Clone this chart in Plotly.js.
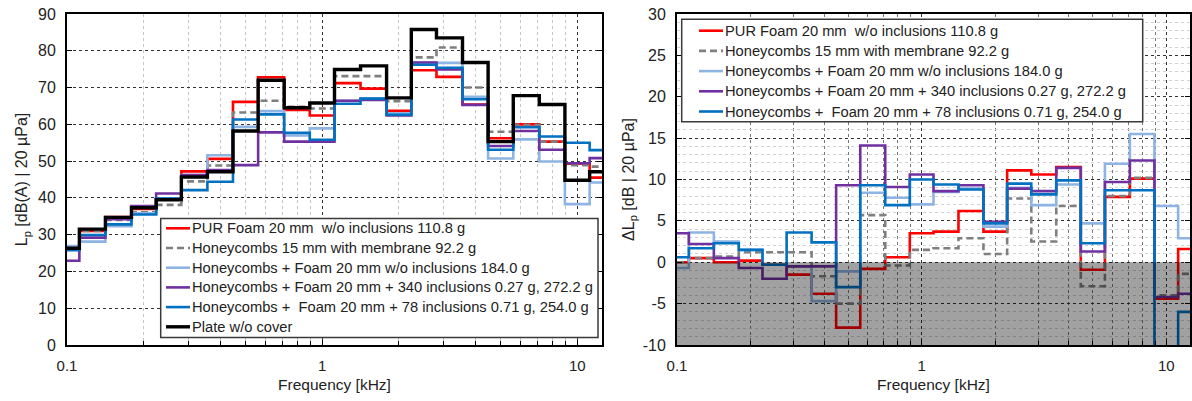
<!DOCTYPE html>
<html><head><meta charset="utf-8">
<script src="https://cdn.plot.ly/plotly-3.0.1.min.js"></script>
<style>html,body{margin:0;padding:0;background:#fff}#chart{width:1192px;height:401px}</style>
</head><body><div id="chart"></div>
<script>
// third-octave band centre frequencies [kHz]
const freq = [0.1,0.125,0.16,0.2,0.25,0.315,0.4,0.5,0.63,0.8,1,1.25,1.6,2,2.5,3.15,4,5,6.3,8,10,12.5];

const seriesNames = [
  'PUR Foam 20 mm\u00a0\u00a0w/o inclusions 110.8 g',
  'Honeycombs 15 mm with membrane 92.2 g',
  'Honeycombs + Foam 20 mm w/o inclusions 184.0 g',
  'Honeycombs + Foam 20 mm + 340 inclusions 0.27 g, 272.2 g',
  'Honeycombs +\u00a0\u00a0Foam 20 mm + 78 inclusions 0.71 g, 254.0 g',
  'Plate w/o cover'
];

// Left: sound pressure level Lp [dB(A)]
const lpPur     = [26.3,31.0,34.8,37.0,39.6,47.2,50.6,66.1,72.8,63.9,62.4,71.2,69.7,63.7,74.7,72.9,65.4,56.2,60.0,55.3,49.3,45.5];
const lpHc15    = [26.3,31.0,34.0,36.1,38.1,44.5,48.8,63.2,66.4,64.8,64.3,73.1,73.1,66.3,78.2,80.9,70.0,58.0,59.9,55.3,48.9,48.5];
const lpHcFoam  = [26.9,28.1,32.3,35.8,39.8,46.2,51.6,59.3,63.6,57.0,58.9,66.4,67.0,63.0,76.8,76.7,67.5,50.7,55.9,49.9,38.3,44.2];
const lpIncl340 = [22.9,29.2,34.2,37.8,41.2,46.2,47.6,48.9,57.8,55.3,55.3,66.4,66.6,62.4,76.8,74.9,65.3,54.1,58.2,53.1,49.4,50.8];
const lpIncl78  = [25.8,29.9,32.8,35.5,39.8,42.1,44.4,61.3,62.7,57.7,55.8,65.6,67.0,62.6,76.2,75.4,66.8,53.1,59.2,56.7,55.0,53.0];
const lpPlate   = [26.3,31.5,34.7,37.3,39.5,45.7,47.1,58.2,72.0,64.5,65.8,74.9,75.9,67.2,85.8,83.5,76.8,55.3,67.8,65.4,44.8,47.1];

// Right: level difference dLp [dB]
const dPur     = [0.0,0.5,0.0,0.2,-0.3,-1.5,-3.8,-7.9,-0.8,0.6,3.5,3.7,6.2,3.7,11.1,10.6,11.5,-0.9,7.9,10.1,-4.4,1.6];
const dHc15    = [0.0,0.5,0.7,1.2,1.2,1.2,-1.7,-5.0,5.7,-0.4,1.5,1.7,2.9,1.0,7.7,2.5,6.8,-2.9,8.0,10.2,-4.0,-1.4];
const dHcFoam  = [-0.7,3.6,2.5,1.5,-0.3,-0.5,-4.7,-1.1,8.4,7.8,7.0,8.5,8.9,4.3,9.0,6.9,9.4,4.7,11.9,15.5,6.8,2.9];
const dIncl340 = [3.5,2.2,0.5,-0.7,-2.0,-0.5,-0.5,9.3,14.1,9.1,10.6,8.6,9.3,4.9,8.9,8.6,11.4,1.3,9.7,12.3,-4.2,-3.8];
const dIncl78  = [0.6,1.7,2.3,1.5,-0.3,3.6,2.4,-3.0,9.3,6.9,10.0,9.4,8.8,4.7,9.5,8.2,9.9,2.3,8.7,8.7,-10.2,-6.0];

const xTickVals = [0.1,1,10];
const xTickText = ['0.1','1','10'];
const xMinorVals = [0.2,0.3,0.4,0.5,0.6,0.7,0.8,0.9,2,3,4,5,6,7,8,9];
const yTickVals1 = [0,10,20,30,40,50,60,70,80,90];
const yTickVals2 = [-10,-5,0,5,10,15,20,25,30];
const yTickText2 = ['-10','-5','0','5','10','15','20','25','30'];

const colors = ['#ff0000','#7f7f7f','#8db4e2','#7030a0','#0070c0','#000000'];
const dashes = ['solid','7px,4px','solid','solid','solid','solid'];
const widths = [2.6,2.6,2.6,2.6,2.6,3.4];

const FONT = 'Liberation Sans, Arial, sans-serif';
const W = 1192, H = 401, ML = 67, MR = 2, MT = 14, MB = 56;
const PW = W - ML - MR, PH = H - MT - MB;
const px = v => (v - ML) / PW;
const py = v => (H - MB - v) / PH;

function step(y, i, xa, ya) {
  return {x: freq, y: y, name: seriesNames[i], type: 'scatter', mode: 'lines',
    line: {shape: 'hvh', color: colors[i], dash: dashes[i], width: widths[i]},
    xaxis: xa, yaxis: ya, showlegend: false};
}

const left = [lpPur, lpHc15, lpHcFoam, lpIncl340, lpIncl78, lpPlate];
const right = [dPur, dHc15, dHcFoam, dIncl340, dIncl78];
const data = [];
left.forEach((y, i) => data.push(step(y, i, 'x', 'y')));
right.forEach((y, i) => data.push(step(y, i, 'x2', 'y2')));

// legend boxes drawn as layout decorations (pixel geometry)
const shapes = [{type: 'rect', xref: 'x2 domain', yref: 'y2', x0: 0, x1: 1, y0: -10, y1: 0,
  fillcolor: 'rgba(0,0,0,0.37)', line: {width: 0}, layer: 'above'}];
const annotations = [];
function legendBox(box, rows, lineX0, lineX1, textX, count) {
  shapes.push({type: 'rect', xref: 'paper', yref: 'paper', x0: px(box[0]), x1: px(box[1]),
    y0: py(box[3]), y1: py(box[2]), fillcolor: '#fff', line: {color: '#3a3a3a', width: 1.5}, layer: 'above'});
  for (let i = 0; i < count; i++) {
    const yy = py(rows[0] + i * rows[1]);
    shapes.push({type: 'line', xref: 'paper', yref: 'paper', x0: px(lineX0), x1: px(lineX1), y0: yy, y1: yy,
      line: {color: colors[i], dash: dashes[i], width: widths[i]}, layer: 'above'});
    annotations.push({xref: 'paper', yref: 'paper', x: px(textX), y: yy, xanchor: 'left', yanchor: 'middle',
      text: seriesNames[i], showarrow: false, borderpad: 0, font: {size: 14.7, color: '#222', family: FONT}});
  }
}
legendBox([160.7, 598, 218.5, 337.5], [228.3, 19.7], 166, 190, 191, 6);
legendBox([681.7, 1142.7, 19.3, 121.7], [30.7, 20.2], 699, 723, 724, 5);

const baseX = {
  type: 'log', range: [-1, Math.log10(12.5)],
  tickmode: 'array', tickvals: xTickVals, ticktext: xTickText,
  showline: true, linecolor: '#000', linewidth: 2, mirror: true,
  ticks: 'inside', ticklen: 5, tickcolor: '#000',
  showgrid: true, gridcolor: '#333', griddash: 'dot', gridwidth: 1,
  zeroline: false, tickfont: {size: 15, color: '#222'}, ticklabelstandoff: 6,
  title: {text: 'Frequency [kHz]', font: {size: 15.5, color: '#222'}, standoff: 6}
};

const layout = {
  width: W, height: H,
  margin: {l: ML, r: MR, t: MT, b: MB},
  paper_bgcolor: '#fff', plot_bgcolor: '#fff',
  font: {family: FONT, color: '#222'},
  showlegend: false,
  xaxis: Object.assign({}, baseX, {domain: [0, px(602)], anchor: 'y',
    minor: {tickmode: 'array', tickvals: xMinorVals, ticks: 'inside', ticklen: 4, tickcolor: '#000',
      showgrid: true, gridcolor: '#c4c4c4', griddash: 'dot', gridwidth: 1}}),
  xaxis2: Object.assign({}, baseX, {domain: [px(677), 1], anchor: 'y2',
    minor: {tickmode: 'array', tickvals: xMinorVals, ticks: 'inside', ticklen: 4, tickcolor: '#000',
      showgrid: true, gridcolor: '#777', griddash: 'dot', gridwidth: 1}}),
  yaxis: {range: [0, 90], anchor: 'x', tickmode: 'array', tickvals: yTickVals1,
    showline: true, linecolor: '#000', linewidth: 2, mirror: 'ticks',
    ticks: 'inside', ticklen: 5, tickcolor: '#000',
    showgrid: true, gridcolor: '#333', griddash: 'dot', gridwidth: 1, zeroline: false,
    tickfont: {size: 16, color: '#222'}, ticklabelstandoff: 6,
    title: {text: 'L<sub>p</sub> [dB(A) | 20 µPa]', font: {size: 16, color: '#222'}, standoff: 6}},
  yaxis2: {range: [-10, 30], anchor: 'x2', tickmode: 'array', tickvals: yTickVals2, ticktext: yTickText2,
    showline: true, linecolor: '#000', linewidth: 2, mirror: 'ticks',
    ticks: 'inside', ticklen: 5, tickcolor: '#000',
    showgrid: true, gridcolor: '#333', griddash: 'dot', gridwidth: 1, zeroline: false,
    minor: {dtick: 1, tick0: 0, showgrid: true, gridcolor: '#d2d2d2', gridwidth: 1},
    tickfont: {size: 16, color: '#222'}, ticklabelstandoff: 6,
    title: {text: '\u0394L<sub>p</sub> [dB | 20 µPa]', font: {size: 16, color: '#222'}, standoff: 4}},
  shapes: shapes,
  annotations: annotations
};

Plotly.newPlot('chart', data, layout, {displayModeBar: false, staticPlot: true});
</script></body></html>
